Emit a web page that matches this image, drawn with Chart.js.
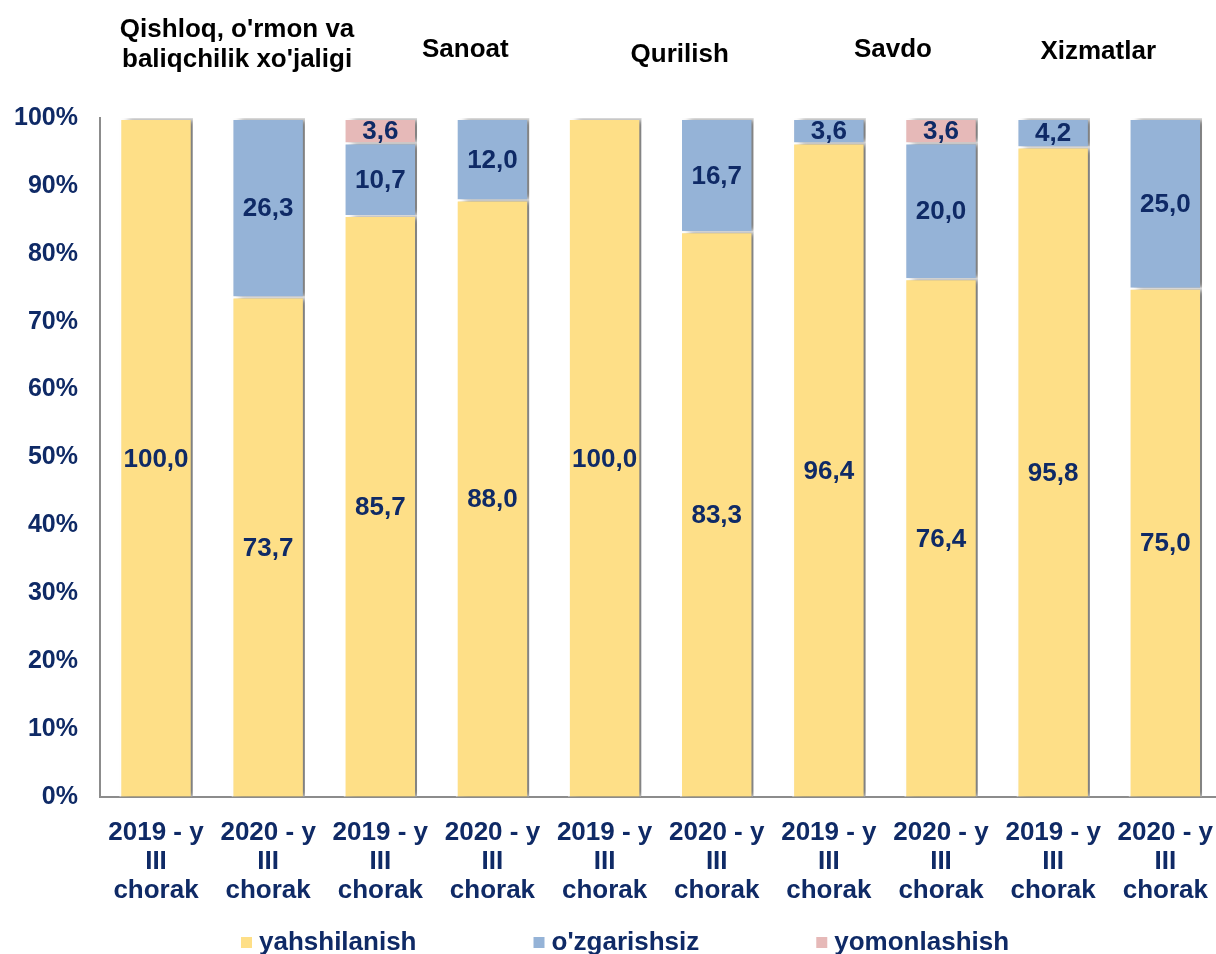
<!DOCTYPE html>
<html>
<head>
<meta charset="utf-8">
<script src="https://cdn.jsdelivr.net/npm/chart.js@4"></script>
<style>
  html, body { margin: 0; padding: 0; background: #fff; overflow: hidden; }
  #wrap { width: 1226px; height: 954px; position: relative; }
</style>
</head>
<body>
<div id="wrap"><canvas id="chart"></canvas></div>
<script>
const labels = [
  ['2019 - y', 'III', 'chorak'], ['2020 - y', 'III', 'chorak'],
  ['2019 - y', 'III', 'chorak'], ['2020 - y', 'III', 'chorak'],
  ['2019 - y', 'III', 'chorak'], ['2020 - y', 'III', 'chorak'],
  ['2019 - y', 'III', 'chorak'], ['2020 - y', 'III', 'chorak'],
  ['2019 - y', 'III', 'chorak'], ['2020 - y', 'III', 'chorak']
];
const groupTitles = [
  ["Qishloq, o'rmon va", "baliqchilik xo'jaligi"],
  ['Sanoat'],
  ['Qurilish'],
  ['Savdo'],
  ['Xizmatlar']
];
const yahshilanish = [100.0, 73.7, 85.7, 88.0, 100.0, 83.3, 96.4, 76.4, 95.8, 75.0];
const ozgarishsiz  = [0, 26.3, 10.7, 12.0, 0, 16.7, 3.6, 20.0, 4.2, 25.0];
const yomonlashish = [0, 0, 3.6, 0, 0, 0, 0, 3.6, 0, 0];

const navy = '#0f2a66';
const font = "Arial, 'Liberation Sans', sans-serif";

// shadow to the right of every bar
const shadowPlugin = {
  id: 'barShadow',
  beforeDatasetDraw(chart) {
    const ctx = chart.ctx;
    ctx.save();
    ctx.shadowColor = 'rgba(0,0,0,0.5)';
    ctx.shadowBlur = 6;
    ctx.shadowOffsetX = 7;
    ctx.shadowOffsetY = 0;
  },
  afterDatasetDraw(chart) {
    chart.ctx.restore();
  }
};

// values inside the segments
const valuePlugin = {
  id: 'values',
  afterDatasetsDraw(chart) {
    const ctx = chart.ctx;
    ctx.save();
    ctx.font = 'bold 26px ' + font;
    ctx.fillStyle = navy;
    ctx.textAlign = 'center';
    ctx.textBaseline = 'middle';
    chart.data.datasets.forEach((ds, di) => {
      const meta = chart.getDatasetMeta(di);
      meta.data.forEach((bar, i) => {
        const v = ds.data[i];
        if (!v) return;
        const p = bar.getProps(['x', 'y', 'base'], true);
        ctx.fillText(v.toFixed(1).replace('.', ','), p.x, (p.y + p.base) / 2 + 2);
      });
    });
    ctx.restore();
  }
};

// sector names above each pair of bars
const titlePlugin = {
  id: 'groupTitles',
  afterDraw(chart) {
    const ctx = chart.ctx;
    const x = chart.scales.x;
    const dx = [25, 29, 19, 8, -11];
    const ys = [45, 50, 55, 50, 52];
    ctx.save();
    ctx.font = 'bold 26px ' + font;
    ctx.fillStyle = '#000';
    ctx.textAlign = 'center';
    ctx.textBaseline = 'middle';
    groupTitles.forEach((lines, g) => {
      const cx = (x.getPixelForValue(2 * g) + x.getPixelForValue(2 * g + 1)) / 2 + dx[g];
      const y0 = ys[g] - (lines.length - 1) * 15;
      lines.forEach((t, k) => ctx.fillText(t, cx, y0 + k * 30));
    });
    ctx.restore();
  }
};

// legend row at the bottom, wide gaps between items
const legendPlugin = {
  id: 'bottomLegend',
  afterDraw(chart) {
    const ctx = chart.ctx;
    ctx.save();
    ctx.font = 'bold 26px ' + font;
    ctx.textBaseline = 'middle';
    ctx.textAlign = 'left';
    let x = 241;
    const y = 943;
    chart.data.datasets.forEach(ds => {
      ctx.fillStyle = ds.backgroundColor;
      ctx.fillRect(x, y - 6, 11, 11);
      ctx.fillStyle = navy;
      ctx.fillText(ds.label, x + 18, y);
      x += 18 + ctx.measureText(ds.label).width + 117;
    });
    ctx.restore();
  }
};

new Chart(document.getElementById('chart').getContext('2d'), {
  type: 'bar',
  data: {
    labels: labels,
    datasets: [
      { label: 'yahshilanish', data: yahshilanish, backgroundColor: '#fedf87' },
      { label: "o'zgarishsiz", data: ozgarishsiz, backgroundColor: '#95b3d7' },
      { label: 'yomonlashish', data: yomonlashish, backgroundColor: '#e6b9b8' }
    ]
  },
  options: {
    responsive: true,
    maintainAspectRatio: false,
    animation: false,
    layout: { padding: { top: 118, right: 0, left: 0, bottom: 35 } },
    datasets: {
      bar: {
        borderColor: '#ffffff',
        borderWidth: 2,
        categoryPercentage: 0.655,
        barPercentage: 1.0
      }
    },
    plugins: {
      legend: { display: false },
      tooltip: { enabled: false }
    },
    scales: {
      x: {
        stacked: true,
        grid: { display: false },
        border: { display: true, color: '#8c8c8c', width: 2 },
        ticks: {
          color: navy,
          padding: 13,
          maxRotation: 0,
          autoSkip: false,
          font: { family: font, size: 26, weight: 'bold', lineHeight: 1.13 }
        }
      },
      y: {
        stacked: true,
        min: 0,
        max: 100,
        grid: { display: false },
        border: { display: true, color: '#8c8c8c', width: 2 },
        ticks: {
          stepSize: 10,
          color: navy,
          padding: 14,
          callback: v => v + '%',
          font: { family: font, size: 25, weight: 'bold' }
        }
      }
    }
  },
  plugins: [shadowPlugin, valuePlugin, titlePlugin, legendPlugin]
});
</script>
</body>
</html>
